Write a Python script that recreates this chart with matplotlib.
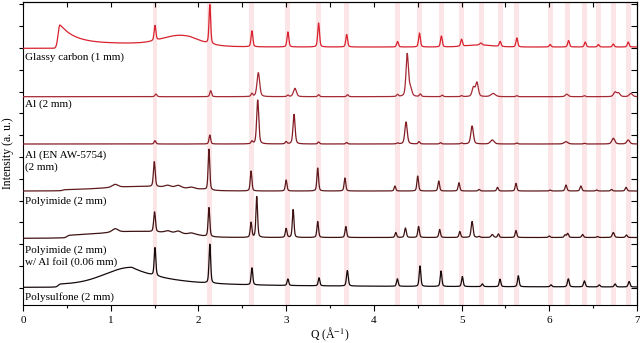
import numpy as np
import matplotlib
matplotlib.use("Agg")
import matplotlib.pyplot as plt

plt.rcParams['font.family'] = ['Liberation Serif', 'DejaVu Serif']
plt.rcParams['mathtext.fontset'] = 'stix'

# ---------------- data ----------------
q_min, q_max = 0.0, 7.0

# reference peak positions (pink bands)
band_positions = [1.505, 2.13, 2.61, 3.02, 3.37, 3.69, 4.27, 4.52, 4.77, 5.00,
                  5.23, 5.44, 5.63, 6.01, 6.21, 6.40, 6.56, 6.73, 6.90]

labels = ["Glassy carbon (1 mm)", "Al (2 mm)", "Al (EN AW-5754)\n(2 mm)",
          "Polyimide (2 mm)", "Polyimide (2 mm)\nw/ Al foil (0.06 mm)", "Polysulfone (2 mm)"]
offsets = [256.7, 208.3, 161.0, 114.0, 66.7, 17.7]
label_y = [248, 201, 144, 104, 49, 8]
colors = ['#d8222e', '#a42a34', '#841c24', '#5e1a1c', '#3e1212', '#140a0a']

# peaks: (center, height, hwhm)
gc_peaks = [(1.505, 15, 0.012), (2.13, 39, 0.011), (2.61, 16, 0.012), (3.02, 15, 0.012),
            (3.37, 24, 0.012), (3.69, 12.5, 0.012), (4.27, 5.5, 0.012), (4.52, 14, 0.012),
            (4.77, 11, 0.012), (5.00, 7, 0.012), (5.22, 2, 0.015), (5.44, 5, 0.012),
            (5.63, 9, 0.012), (6.01, 2.5, 0.012), (6.22, 6.5, 0.012), (6.41, 5, 0.012),
            (6.56, 2.5, 0.012), (6.73, 3, 0.012), (6.90, 5, 0.012)]
al_peaks = [(1.515, 2.7, 0.013), (2.14, 6, 0.012), (2.61, 3, 0.012), (2.683, 24, 0.018),
            (3.02, 1.5, 0.012), (3.10, 8.4, 0.02), (3.37, 2, 0.012), (3.70, 2, 0.012),
            (4.27, 2, 0.012), (4.38, 42, 0.016), (4.415, 8, 0.02), (4.53, 2.5, 0.012),
            (4.78, 1.5, 0.012), (5.00, 1, 0.012), (5.135, 9, 0.018), (5.175, 14, 0.018),
            (5.36, 3.2, 0.03), (5.63, 1, 0.012), (6.20, 2.5, 0.02), (6.40, 1, 0.012),
            (6.75, 4.5, 0.02), (6.79, 3.5, 0.02), (6.93, 3.2, 0.022)]
alen_peaks = [(1.505, 3.3, 0.012), (2.13, 9, 0.011), (2.61, 2.5, 0.012), (2.676, 44, 0.014),
              (3.00, 2.3, 0.012), (3.09, 29.7, 0.014), (3.37, 2, 0.012), (3.69, 1.5, 0.012),
              (4.27, 1, 0.012), (4.367, 22, 0.016), (4.515, 2.3, 0.012), (4.76, 1.3, 0.012),
              (5.00, 1, 0.012), (5.12, 18, 0.017), (5.35, 4, 0.025), (5.63, 1, 0.012),
              (6.19, 2.3, 0.025), (6.40, 0.7, 0.012), (6.73, 5.7, 0.02), (6.90, 4, 0.02)]
pi_peaks = [(1.05, 3, 0.04), (1.497, 25, 0.012), (1.65, 2, 0.04), (1.77, 2.5, 0.04),
            (1.92, 1.5, 0.04), (2.12, 41, 0.011), (2.60, 20, 0.011), (3.00, 11, 0.011),
            (3.36, 23, 0.011), (3.67, 13, 0.011), (4.24, 5, 0.011), (4.50, 15, 0.011),
            (4.74, 10, 0.011), (4.97, 8.3, 0.011), (5.20, 1.5, 0.012), (5.41, 3.7, 0.011),
            (5.62, 7.7, 0.011), (6.01, 1, 0.012), (6.19, 6, 0.012), (6.36, 5, 0.012),
            (6.54, 1, 0.012), (6.71, 1.5, 0.012), (6.875, 3.7, 0.012)]
pial_peaks = [(1.05, 3.5, 0.04), (1.50, 20, 0.012), (1.65, 2, 0.04), (1.77, 2.5, 0.04),
              (1.92, 1.5, 0.04), (2.12, 29, 0.011), (2.60, 15, 0.011), (2.665, 41, 0.011),
              (3.00, 9, 0.011), (3.08, 28, 0.011), (3.36, 16, 0.011), (3.68, 11, 0.011),
              (4.25, 5, 0.011), (4.36, 9.5, 0.012), (4.51, 11, 0.011), (4.75, 8, 0.011),
              (4.98, 6, 0.011), (5.12, 16, 0.013), (5.20, 1, 0.012), (5.35, 3, 0.015),
              (5.42, 3.5, 0.011), (5.62, 7, 0.011), (6.00, 1.5, 0.012), (6.18, 2.5, 0.012),
              (6.21, 4, 0.012), (6.38, 3, 0.012), (6.55, 1, 0.012), (6.73, 5, 0.014),
              (6.88, 2.5, 0.012)]
ps_peaks = [(1.505, 28, 0.011), (2.13, 39, 0.011), (2.61, 17, 0.011), (3.02, 6.5, 0.011),
            (3.375, 8, 0.011), (3.698, 15.5, 0.012), (4.268, 7.5, 0.011), (4.526, 20.5, 0.011),
            (4.766, 15.5, 0.011), (5.009, 10, 0.011), (5.237, 2.7, 0.012), (5.438, 7.5, 0.011),
            (5.647, 11, 0.011), (6.02, 2, 0.012), (6.217, 8, 0.012), (6.40, 6, 0.012),
            (6.57, 2, 0.012), (6.75, 3, 0.012), (6.91, 5.5, 0.012)]

# broad humps: (center, height, sigma)
gc_humps = [(1.79, 8, 0.2), (5.2, 2.0, 0.15)]
al_humps = []
alen_humps = []
pi_humps = [(1.35, 3.5, 0.4)]
pial_humps = [(1.3, 4.5, 0.4)]
ps_humps = []

# sharp edges with decay: (center, height, rise sigma, decay length)
gc_edges = [(0.42, 19, 0.02, 0.17)]
ps_edges = [(1.24, 17, 0.3, 0.4)]

# shelves: (onset, height, decay start, decay length)
gc_shelves = [(0.40, 3.7, 1.9, 0.25), (0.40, 1.3, 7.0, 1.0)]
pi_shelves = [(0.45, 1.0, 2.05, 0.05)]
pial_shelves = [(0.50, 1.6, 2.0, 0.08), (0.50, 0.8, 7.0, 1.0)]
ps_shelves = [(0.40, 3.0, 1.5, 2.5)]


# ---------------- line-shape helpers ----------------
def pseudo_voigt(q, c, h, w, eta=0.4):
    x = (q - c) / w
    return h * (eta / (1 + x ** 2) + (1 - eta) * np.exp(-np.log(2) * x ** 2))


def hump(q, c, h, s):
    return h * np.exp(-0.5 * ((q - c) / s) ** 2)


def edge(q, c, h, rise, decay):
    left = h * np.exp(-0.5 * ((q - c) / rise) ** 2)
    right = h * np.exp(-np.clip(q - c, 0, None) / decay)
    return np.where(q < c, left, right)


def shelf(q, q0, h, q1, length):
    on = 1.0 / (1.0 + np.exp(-(q - q0) / 0.01))
    off = np.where(q > q1, np.exp(-np.clip(q - q1, 0, None) / length), 1.0)
    return h * on * off


def spectrum(q, peaks, humps=(), edges=(), shelves=()):
    y = np.zeros_like(q)
    for p in peaks:
        y += pseudo_voigt(q, *p)
    for p in humps:
        y += hump(q, *p)
    for p in edges:
        y += edge(q, *p)
    for p in shelves:
        y += shelf(q, *p)
    return y


q = np.linspace(q_min, q_max, 4000)
series = [
    spectrum(q, gc_peaks, gc_humps, gc_edges, gc_shelves),
    spectrum(q, al_peaks, al_humps),
    spectrum(q, alen_peaks, alen_humps),
    spectrum(q, pi_peaks, pi_humps, (), pi_shelves),
    spectrum(q, pial_peaks, pial_humps, (), pial_shelves),
    spectrum(q, ps_peaks, ps_humps, ps_edges, ps_shelves),
]

# ---------------- figure ----------------
fig = plt.figure(figsize=(6.4, 3.43), dpi=100)
ax = fig.add_axes([23 / 640, 38 / 343, 614 / 640, 303 / 343])

for b in band_positions:
    ax.axvspan(b - 0.028, b + 0.028, color='#fce5e7', lw=0, zorder=0)

for y, off, col in zip(series, offsets, colors):
    ax.plot(q, y + off, color=col, lw=0.9, zorder=3)

for lab, ly in zip(labels, label_y):
    ax.text(0.022, ly, lab, fontsize=8, va='center', ha='left',
            linespacing=1.25, zorder=4)

ax.set_xlim(q_min, q_max)
ax.set_ylim(0, 303)
ax.set_xticks(np.arange(0, 7.01, 1))
ax.set_xticks(np.arange(0.5, 7, 1), minor=True)
ax.set_yticks(np.arange(17.2, 303, 21.8))
ax.set_yticklabels([])
ax.tick_params(axis='x', which='major', direction='out', length=4, width=0.8,
               labelsize=8, pad=4)
ax.tick_params(axis='x', which='minor', direction='out', length=2.5, width=0.8)
ax.tick_params(axis='y', which='major', direction='out', length=3, width=0.8)

top = ax.secondary_xaxis('top')
top.set_xticks(np.arange(0, 7.01, 0.5))
top.tick_params(direction='in', length=3.5, width=0.8, labeltop=False)
top.set_xticklabels([])
right = ax.secondary_yaxis('right')
right.set_yticks(np.arange(17.2, 303, 21.8))
right.tick_params(direction='in', length=4, width=0.8)
right.set_yticklabels([])

for s in ax.spines.values():
    s.set_linewidth(0.8)

ax.set_xlabel('Q (Å$^{-1}$)', fontsize=8.5, labelpad=0)
fig.text(8.5 / 640, 1 - 153 / 343, 'Intensity (a. u.)', rotation=90,
         fontsize=8.5, ha='center', va='center')

fig.savefig('out.png', dpi=100)
